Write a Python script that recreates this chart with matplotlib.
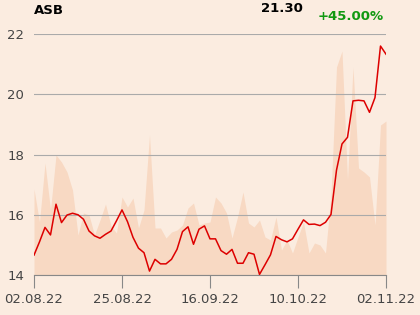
import matplotlib
matplotlib.use("Agg")
import matplotlib.pyplot as plt
import numpy as np

# --- data ---
price = [14.66, 15.10, 15.58, 15.33, 16.35, 15.74, 15.99, 16.05, 16.00, 15.85,
         15.46, 15.30, 15.22, 15.35, 15.46, 15.80, 16.16, 15.77, 15.25, 14.89,
         14.74, 14.13, 14.52, 14.37, 14.37, 14.52, 14.85, 15.44, 15.60, 15.02,
         15.52, 15.63, 15.20, 15.20, 14.81, 14.69, 14.85, 14.39, 14.39, 14.74,
         14.69, 14.02, 14.34, 14.67, 15.28, 15.17, 15.10, 15.20, 15.52, 15.83,
         15.68, 15.69, 15.64, 15.75, 16.01, 17.48, 18.35, 18.57, 19.78, 19.80,
         19.78, 19.40, 19.89, 21.60, 21.33]
volume = [86, 53, 112, 65, 120, 113, 103, 85, 40, 62,
          60, 40, 55, 71, 49, 42, 78, 68, 77, 47,
          65, 140, 47, 47, 37, 43, 45, 50, 67, 72,
          50, 52, 53, 78, 72, 62, 37, 58, 83, 52,
          48, 55, 38, 35, 58, 25, 35, 22, 38, 53,
          22, 32, 30, 22, 80, 208, 224, 95, 208, 107,
          103, 98, 50, 150, 154]
tick_idx = [0, 16, 32, 48, 64]
tick_labels = ["02.08.22", "25.08.22", "16.09.22", "10.10.22", "02.11.22"]
y_ticks = [14, 16, 18, 20, 22]
title = "ASB"
last_price = "21.30"
change = "+45.00%"

bg = "#FBECE0"
fig = plt.figure(figsize=(4.2, 3.15), dpi=100, facecolor=bg)
ax = fig.add_axes([34/420, 1-275/315, 352/420, 241/315])
ax.set_facecolor(bg)

x = np.arange(len(price))
axv = ax.twinx()
axv.fill_between(x, 0, volume, color="#F8D9C3", linewidth=0, zorder=1)
axv.set_ylim(0, 241)
axv.set_yticks([])
for s in axv.spines.values():
    s.set_visible(False)

ax.set_zorder(axv.get_zorder() + 1)
ax.patch.set_visible(False)
axv.set_facecolor(bg)

ax.plot(x, price, color="#DD0000", linewidth=1.1, zorder=3)
ax.set_xlim(0, 64)
ax.set_ylim(14, 22)
ax.set_yticks(y_ticks)
ax.set_yticklabels([str(v) for v in y_ticks])
ax.grid(axis="y", color="#AAAAAA", linewidth=0.8)
ax.set_xticks(tick_idx)
ax.set_xticklabels(tick_labels)
ax.tick_params(axis="x", length=9, color="#888888", labelsize=9.5, labelcolor="#444444", pad=4)
ax.tick_params(axis="y", length=0, labelsize=9.5, labelcolor="#444444", pad=7)
for k in ["left", "right", "top"]:
    ax.spines[k].set_visible(False)
ax.spines["bottom"].set_color("#888888")
ax.spines["bottom"].set_linewidth(0.8)

fig.text(34/420, 1-11/315, title, fontsize=9.5, fontweight="bold", color="black", va="center", ha="left")
fig.text(303/420, 1-9/315, last_price, fontsize=9.5, fontweight="bold", color="black", va="center", ha="right")
fig.text(384/420, 1-16/315, change, fontsize=9.5, fontweight="bold", color="#119911", va="center", ha="right")

fig.savefig("out.png", dpi=100, facecolor=bg)
